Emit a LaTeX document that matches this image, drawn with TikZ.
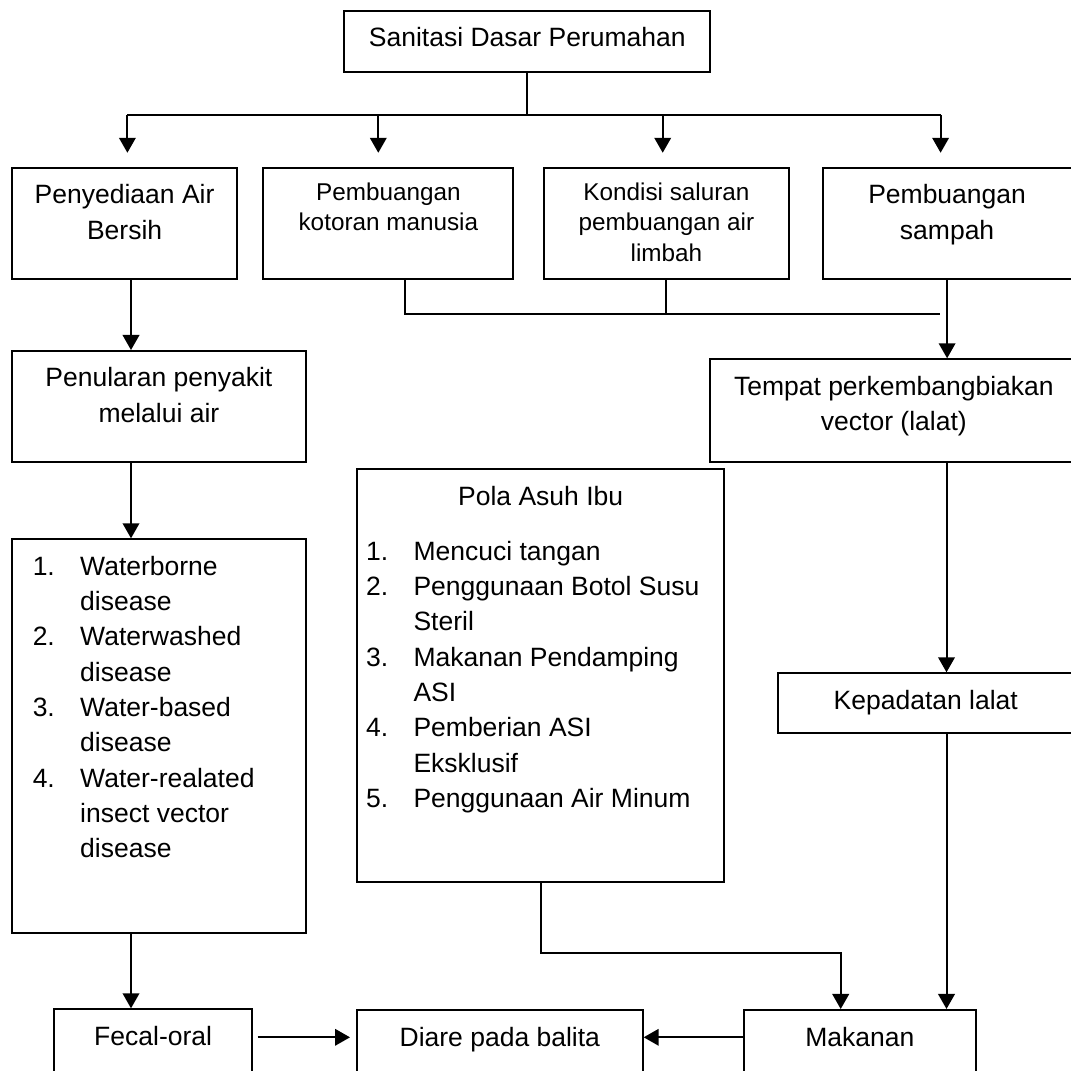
\documentclass[tikz,border=0pt]{standalone}
\usepackage{fontspec}
\setmainfont{Liberation Sans}
\usetikzlibrary{arrows.meta}

\newdimen\pxu
\pxu=0.4528pt
\newcommand{\boxtext}[3]{\parbox[t][#2\pxu][t]{#1\pxu}{\centering\vspace*{5.1pt}\strut#3}}
\newcommand{\itemnum}[2]{\makebox[21.5pt][l]{#1}#2}
\newcommand{\itemcont}[1]{\hspace*{21.5pt}#1}

\begin{document}
\begin{tikzpicture}[x=0.4528pt,y=-0.4528pt]
        \tikzset{BoxStyle/.style={draw,line width=0.9pt,inner sep=0pt,anchor=north west,font=\fontsize{12}{16}\selectfont}}
        \tikzset{SmallStyle/.style={BoxStyle,font=\fontsize{11}{13.8}\selectfont}}
        \tikzset{ArrowStyle/.style={line width=0.9pt,-{Triangle[length=6.8pt,width=7.5pt]}}}
        \tikzset{LineStyle/.style={line width=0.9pt}}

        \useasboundingbox (0,0) rectangle (1071,1070);
        \clip (0,0) rectangle (1071,1070);

        \node[BoxStyle] (san) at (343.3,10) {\boxtext{366}{60.7}{Sanitasi Dasar Perumahan}};
        \node[BoxStyle] (pab) at (11,166.7) {\boxtext{225.2}{111}{Penyediaan Air\\Bersih}};
        \node[SmallStyle] (kot) at (262.4,166.7) {\boxtext{250}{111}{Pembuangan\\kotoran manusia}};
        \node[SmallStyle] (kon) at (542.8,166.7) {\boxtext{245.3}{111}{Kondisi saluran\\pembuangan air\\limbah}};
        \node[BoxStyle] (smp) at (821.6,166.7) {\boxtext{249}{111}{Pembuangan\\sampah}};
        \node[BoxStyle] (pen) at (11,350) {\boxtext{293.8}{110.7}{Penularan penyakit\\melalui air}};
        \node[BoxStyle] (tmp) at (708.7,358.3) {\boxtext{368.3}{102.4}{Tempat perkembangbiakan\\vector (lalat)}};
        \node[BoxStyle] (kpd) at (777,672.3) {\boxtext{295.6}{59.4}{Kepadatan lalat}};

        \node[BoxStyle] (wtr) at (11,538.3) {\parbox[t][393.4\pxu][t]{293.8\pxu}{\raggedright\leftskip=9.4pt\vspace*{5.1pt}\strut\itemnum{1.}{Waterborne}\\
                \itemcont{disease}\\
                \itemnum{2.}{Waterwashed}\\
                \itemcont{disease}\\
                \itemnum{3.}{Water-based}\\
                \itemcont{disease}\\
                \itemnum{4.}{Water-realated}\\
                \itemcont{insect vector}\\
                \itemcont{disease}}};
        \node[BoxStyle] (pola) at (356,468.3) {\parbox[t][412.4\pxu][t]{367.3\pxu}{\vspace*{5.1pt}\centering\strut Pola Asuh Ibu\par
                \vspace{8.9pt}\raggedright\leftskip=4.1pt
                \itemnum{1.}{Mencuci tangan}\\
                \itemnum{2.}{Penggunaan Botol Susu}\\
                \itemcont{Steril}\\
                \itemnum{3.}{Makanan Pendamping}\\
                \itemcont{ASI}\\
                \itemnum{4.}{Pemberian ASI}\\
                \itemcont{Eksklusif}\\
                \itemnum{5.}{Penggunaan Air Minum}}};

        \node[BoxStyle] (fec) at (53.3,1008.3) {\boxtext{197.7}{81}{Fecal-oral}};
        \node[BoxStyle] (dia) at (356,1009) {\boxtext{285.7}{81}{Diare pada balita}};
        \node[BoxStyle] (mkn) at (742.7,1009) {\boxtext{232.3}{81}{Makanan}};

        \coordinate (busA) at (127.4,115);
        \coordinate (busB) at (378.3,115);
        \coordinate (busC) at (662.7,115);
        \coordinate (busD) at (940.6,115);
        \coordinate (colL) at (404.6,314.3);
        \coordinate (colR) at (940,314.3);
        \coordinate (lineA) at (131,0);
        \coordinate (lineB) at (946.5,0);
        \coordinate (bend) at (840.7,952.5);
        \coordinate (row) at (0,1037.3);

        \draw[LineStyle] (san.south) -- (san.south |- busA);
        \draw[LineStyle] (busA) -- (busD);
        \draw[ArrowStyle,shorten >=6.3pt] (busA) -- (busA |- pab.north);
        \draw[ArrowStyle,shorten >=6.3pt] (busB) -- (busB |- kot.north);
        \draw[ArrowStyle,shorten >=6.3pt] (busC) -- (busC |- kon.north);
        \draw[ArrowStyle,shorten >=6.3pt] (busD) -- (busD |- smp.north);

        \draw[LineStyle] (colL |- kot.south) -- (colL) -- (colR);
        \draw[LineStyle] (kon.south) -- (kon.south |- colR);
        \draw[ArrowStyle] (smp.south) -- (smp.south |- tmp.north);

        \draw[ArrowStyle] (lineA |- pab.south) -- (lineA |- pen.north);
        \draw[ArrowStyle] (lineA |- pen.south) -- (lineA |- wtr.north);
        \draw[ArrowStyle] (lineA |- wtr.south) -- (lineA |- fec.north);
        \draw[ArrowStyle] (lineB |- tmp.south) -- (lineB |- kpd.north);
        \draw[ArrowStyle] (lineB |- kpd.south) -- (lineB |- mkn.north);
        \draw[ArrowStyle] (pola.south) |- (bend) -- (bend |- mkn.north);

        \draw[ArrowStyle,shorten <=2.1pt,shorten >=2.7pt] (fec.east |- row) -- (dia.west |- row);
        \draw[ArrowStyle] (mkn.west |- row) -- (dia.east |- row);
\end{tikzpicture}
\end{document}
